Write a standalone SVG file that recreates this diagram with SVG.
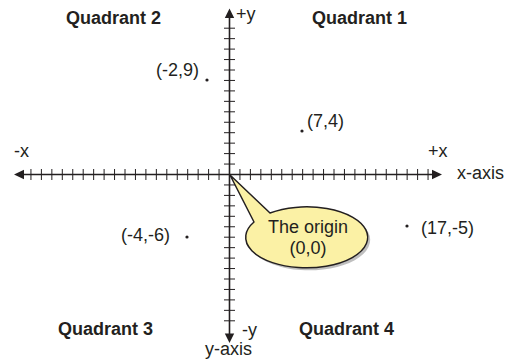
<svg xmlns="http://www.w3.org/2000/svg" width="505" height="360" viewBox="0 0 505 360">
<style>
.t{font-family:"Liberation Sans",Arial,sans-serif;font-size:18px;fill:#231f20}
.b{font-weight:bold}
.ax{stroke:#231f20;stroke-width:1.6;fill:none}
.tk{stroke:#231f20;stroke-width:1;fill:none}
.ah{fill:#231f20}
.dot{fill:#231f20}
</style>
<rect width="505" height="360" fill="#fff"/>
<g id="connectors">
<path class="ax" d="M20,174.5H436M229.5,15V337"/>
<path class="ah" d="M14,174.5L24,169.8V179.2Z M442,174.5L432,169.8V179.2Z M229.5,8.5L224.8,18H234.2Z M229.5,343L224.8,333.5H234.2Z"/>
<path class="tk" d="M30.95,169v11M41.4,169v11M51.85,169v11M62.3,169v11M72.75,169v11M83.2,169v11M93.65,169v11M104.1,169v11M114.55,169v11M125,169v11M135.45,169v11M145.9,169v11M156.35,169v11M166.8,169v11M177.25,169v11M187.7,169v11M198.15,169v11M208.6,169v11M219.05,169v11M239.95,169v11M250.4,169v11M260.85,169v11M271.3,169v11M281.75,169v11M292.2,169v11M302.65,169v11M313.1,169v11M323.55,169v11M334,169v11M344.45,169v11M354.9,169v11M365.35,169v11M375.8,169v11M386.25,169v11M396.7,169v11M407.15,169v11M417.6,169v11M428.05,169v11"/>
<path class="tk" d="M224,28.2h11M224,38.65h11M224,49.1h11M224,59.55h11M224,70h11M224,80.45h11M224,90.9h11M224,101.35h11M224,111.8h11M224,122.25h11M224,132.7h11M224,143.15h11M224,153.6h11M224,164.05h11M224,184.95h11M224,195.4h11M224,205.85h11M224,216.3h11M224,226.75h11M224,237.2h11M224,247.65h11M224,258.1h11M224,268.55h11M224,279h11M224,289.45h11M224,299.9h11M224,310.35h11M224,320.8h11"/>
</g>
<g id="axis-labels">
<text class="t" x="14" y="157">-x</text>
<text class="t" x="428" y="157">+x</text>
<text class="t" x="457" y="179">x-axis</text>
<text class="t" x="236" y="20">+y</text>
<text class="t" x="242" y="336">-y</text>
<text class="t" x="205" y="355">y-axis</text>
</g>
<g id="quadrants">
<text class="t b" x="66" y="24">Quadrant 2</text>
<text class="t b" x="312" y="24">Quadrant 1</text>
<text class="t b" x="58" y="335">Quadrant 3</text>
<text class="t b" x="299" y="335">Quadrant 4</text>
</g>
<g id="point-m2-9"><circle class="dot" cx="207" cy="80" r="1.6"/><text class="t" x="199" y="76" text-anchor="end">(-2,9)</text></g>
<g id="point-7-4"><circle class="dot" cx="302" cy="131" r="1.6"/><text class="t" x="307" y="127">(7,4)</text></g>
<g id="point-m4-m6"><circle class="dot" cx="187" cy="237" r="1.6"/><text class="t" x="170" y="241" text-anchor="end">(-4,-6)</text></g>
<g id="point-17-m5"><circle class="dot" cx="407" cy="226" r="1.6"/><text class="t" x="421" y="234">(17,-5)</text></g>
<g id="origin-callout">
<path d="M254,222L230,175L270,213A61,30.5 0 1 1 254,222Z" fill="#8a8a8a" opacity="0.55" transform="translate(2.5,2.5)"/>
<path d="M254,222L230,175L270,213A61,30.5 0 1 1 254,222Z" fill="#fbf1a5" stroke="#231f20" stroke-width="1.5" stroke-linejoin="round"/>
<text class="t" x="308" y="233" text-anchor="middle">The origin</text>
<text class="t" x="308" y="254" text-anchor="middle">(0,0)</text>
</g>
</svg>
